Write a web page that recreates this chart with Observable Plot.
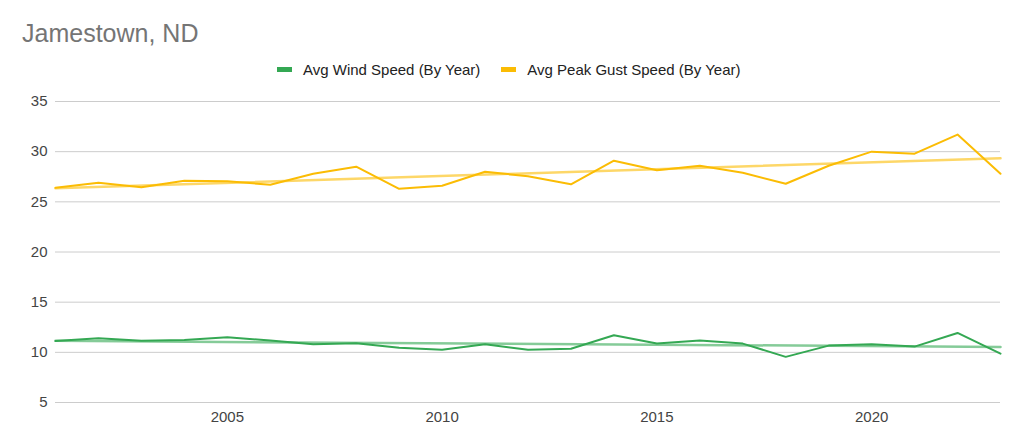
<!DOCTYPE html>
<html>
<head>
<meta charset="utf-8">
<script src="https://cdn.jsdelivr.net/npm/d3@7"></script>
<script src="https://cdn.jsdelivr.net/npm/@observablehq/plot@0.6"></script>
<style>
  html, body { margin: 0; padding: 0; background: #fff; }
  body { width: 1024px; height: 448px; overflow: hidden; font-family: "Liberation Sans", Arial, sans-serif; }
  #header { position: relative; height: 85px; }
  #title { position: absolute; left: 22px; top: 19px; font-size: 25px; line-height: 1.15; color: #757575; }
  #legend { position: absolute; left: 277px; top: 61px; font-size: 15px; color: #222; display: flex; align-items: center; }
  .item { display: flex; align-items: center; margin-right: 21px; }
  .sw { width: 15px; height: 5px; margin-right: 11px; }
</style>
</head>
<body>
<div id="header">
  <div id="title">Jamestown, ND</div>
  <div id="legend"></div>
</div>
<div id="chart"></div>
<script>
const years = [2001,2002,2003,2004,2005,2006,2007,2008,2009,2010,2011,2012,2013,2014,2015,2016,2017,2018,2019,2020,2021,2022,2023];
const windSpeed = [11.13,11.4,11.15,11.23,11.5,11.17,10.8,10.9,10.45,10.25,10.8,10.25,10.35,11.7,10.87,11.17,10.87,9.55,10.67,10.8,10.57,11.93,9.87];
const gustSpeed = [26.4,26.9,26.45,27.1,27.05,26.7,27.8,28.5,26.3,26.6,28.0,27.55,26.75,29.1,28.15,28.6,27.9,26.8,28.6,30.0,29.8,31.7,27.8];
const seriesNames = ["Avg Wind Speed (By Year)", "Avg Peak Gust Speed (By Year)"];
const seriesColors = ["#34a853", "#fbbc04"];
const yTicks = [5,10,15,20,25,30,35];
const xTicks = [2005,2010,2015,2020];

const wind = years.map((y,i) => ({year: y, value: windSpeed[i], series: seriesNames[0]}));
const gust = years.map((y,i) => ({year: y, value: gustSpeed[i], series: seriesNames[1]}));

const legend = document.getElementById("legend");
seriesNames.forEach((n,i) => {
  const d = document.createElement("div");
  d.className = "item";
  d.innerHTML = `<span class="sw" style="background:${seriesColors[i]}"></span><span>${n}</span>`;
  legend.appendChild(d);
});

const chart = Plot.plot({
  width: 1024,
  height: 363,
  marginTop: 16,
  marginBottom: 46,
  marginLeft: 55,
  marginRight: 24,
  style: {fontFamily: '"Liberation Sans", Arial, sans-serif', fontSize: "15px", color: "#444", background: "#fff"},
  x: {domain: [years[0], years[years.length-1]], ticks: xTicks, tickFormat: d => String(d), tickSize: 0, tickPadding: 9, label: null},
  y: {domain: [5, 35], ticks: yTicks, tickSize: 0, tickPadding: 8, label: null},
  marks: [
    Plot.gridY(yTicks, {stroke: "#cccccc", strokeOpacity: 1, strokeWidth: 1}),
    Plot.linearRegressionY(wind, {x: "year", y: "value", stroke: seriesColors[0], strokeOpacity: 0.6, strokeWidth: 2.5, ci: 0}),
    Plot.linearRegressionY(gust, {x: "year", y: "value", stroke: seriesColors[1], strokeOpacity: 0.6, strokeWidth: 2.5, ci: 0}),
    Plot.line(wind, {x: "year", y: "value", stroke: seriesColors[0], strokeWidth: 2}),
    Plot.line(gust, {x: "year", y: "value", stroke: seriesColors[1], strokeWidth: 2})
  ]
});
document.getElementById("chart").appendChild(chart);
</script>
</body>
</html>
